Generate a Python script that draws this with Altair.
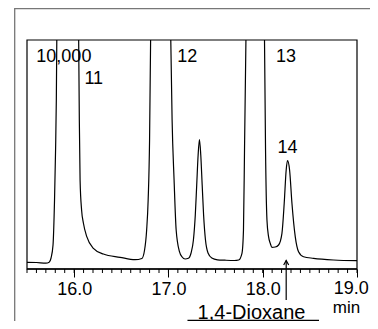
import altair as alt
import pandas as pd

# Chromatogram trace (time in min, detector response; full scale = 10,000).
# The trace leaves the top of the frame on the big peaks, so it is split
# into the four visible stretches.
seg1_t = [15.50, 15.60, 15.70, 15.735, 15.755, 15.776, 15.792, 15.803, 15.811, 15.816]
seg1_v = [293, 284, 253, 293, 480, 1048, 3013, 5197, 7380, 10000]
seg2_t = [16.048, 16.055, 16.063, 16.079, 16.098, 16.134, 16.204, 16.31, 16.487, 16.646,
          16.718, 16.747, 16.769, 16.785, 16.80, 16.811]
seg2_v = [10000, 6507, 3887, 2577, 2009, 1411, 904, 655, 511, 406,
          459, 830, 1703, 3013, 5633, 10000]
seg3_t = [17.025, 17.039, 17.06, 17.082, 17.117, 17.145, 17.177, 17.212, 17.24, 17.265,
          17.285, 17.30, 17.315, 17.329, 17.343, 17.358, 17.373, 17.393, 17.42, 17.46,
          17.52, 17.60, 17.70, 17.745, 17.78, 17.796, 17.807, 17.822]
seg3_v = [10000, 6507, 3887, 1703, 755, 524, 437, 467, 699, 1266,
          2358, 3668, 4978, 5655, 4978, 3668, 2358, 1266, 699, 480,
          402, 384, 371, 393, 686, 1703, 5197, 10000]
seg4_t = [18.019, 18.03, 18.045, 18.062, 18.08, 18.098, 18.133, 18.168, 18.204, 18.228,
          18.249, 18.263, 18.285, 18.31, 18.345, 18.38, 18.433, 18.539, 18.752, 19.0]
seg4_v = [10000, 5197, 2140, 1411, 1122, 948, 961, 1048, 1559, 2869,
          4323, 4729, 4323, 2869, 1411, 755, 537, 467, 393, 362]

# Peak labels
label_text = ["10,000", "11", "12", "13", "14"]
label_time = [15.891, 16.208, 17.20, 18.246, 18.262]
label_resp = [9053, 8057, 9053, 9053, 5044]

# Axis ticks
major_ticks = [16.0, 17.0, 18.0, 19.0]
minor_ticks = [15.5, 15.6, 15.7, 15.8, 15.9, 16.0, 16.1, 16.2, 16.3, 16.4, 16.5, 16.6,
               16.7, 16.8, 16.9, 17.0, 17.1, 17.2, 17.3, 17.4, 17.5, 17.6, 17.7, 17.8,
               17.9, 18.0, 18.1, 18.2, 18.3, 18.4, 18.5, 18.6, 18.7, 18.8, 18.9, 19.0]
last_label = ["19.0"]
last_label_time = [18.94]

# Annotation
annot_name = ["1,4-Dioxane"]
annot_text_time = [17.881]
annot_arrow_time = [18.249]
annot_line_start = [17.202]
annot_line_end = [18.597]

# Plot frame (data range) and outer figure frame (extends past the page edge)
frame_x0 = [15.5]
frame_x1 = [19.0]
frame_y0 = [0]
frame_y1 = [10000]
outer_x0 = [15.3695]
outer_x1 = [19.5]
outer_y0 = [-4000]
outer_y1 = [11367]

FONT = "Liberation Sans"
W, H = 356, 313          # whole figure box
PX_PER_MIN = 330 / 3.5   # inner plot: 15.5-19.0 min over 330 px
PX_PER_UNIT = 229 / 10000
AX_Y = 261               # axis line, px from top of figure box

segs = []
for name, ts, vs in [("a", seg1_t, seg1_v), ("b", seg2_t, seg2_v),
                     ("c", seg3_t, seg3_v), ("d", seg4_t, seg4_v)]:
    segs.append(pd.DataFrame({"t": ts, "v": vs, "seg": name}))
trace = pd.concat(segs, ignore_index=True)
labels = pd.DataFrame({"t": label_time, "v": label_resp, "txt": label_text})
minor = pd.DataFrame({"t": minor_ticks})
last = pd.DataFrame({"t": last_label_time, "txt": last_label})
annot = pd.DataFrame({"name": annot_name, "tt": annot_text_time, "ta": annot_arrow_time,
                      "t1": annot_line_start, "t2": annot_line_end})
frame = pd.DataFrame({"x0": frame_x0, "x1": frame_x1, "y0": frame_y0, "y1": frame_y1})
outer = pd.DataFrame({"x0": outer_x0, "x1": outer_x1, "y0": outer_y0, "y1": outer_y1})

xs = alt.Scale(domain=[15.5 - 13 / PX_PER_MIN, 15.5 + (W - 13) / PX_PER_MIN],
               nice=False, zero=False)
ys = alt.Scale(domain=[-(H - AX_Y) / PX_PER_UNIT, (AX_Y) / PX_PER_UNIT],
               nice=False, zero=False)

x_axis = alt.Axis(values=major_ticks, format=".1f", title="min", grid=False,
                  domain=False, offset=-(H - AX_Y),
                  tickSize=8, tickColor="black", tickWidth=1,
                  labelFont=FONT, labelFontSize=18, labelColor="black",
                  labelFlush=False, labelOverlap=False,
                  labelExpr="datum.value == 19 ? '' : datum.label",
                  labelBaseline="alphabetic", labelPadding=17,
                  titleFont=FONT, titleFontSize=17, titleFontWeight="normal",
                  titleColor="black", titleX=332, titleY=43,
                  titleAlign="center", titleBaseline="alphabetic")

line = alt.Chart(trace).mark_line(color="black", strokeWidth=1.2,
                                  interpolate="monotone").encode(
    x=alt.X("t:Q", scale=xs, axis=x_axis),
    y=alt.Y("v:Q", scale=ys, axis=None),
    detail="seg:N",
)

inner_frame = alt.Chart(frame).mark_rect(filled=False, color="black", strokeWidth=1.2).encode(
    x=alt.X("x0:Q", scale=xs), x2="x1:Q",
    y=alt.Y("y0:Q", scale=ys, axis=None), y2="y1:Q")

outer_frame = alt.Chart(outer).mark_rect(filled=False, color="#777777", strokeWidth=1.3).encode(
    x=alt.X("x0:Q", scale=xs), x2="x1:Q",
    y=alt.Y("y0:Q", scale=ys, axis=None), y2="y1:Q")

axis_line = alt.Chart(frame).mark_rule(color="black", strokeWidth=1.6).encode(
    x=alt.X("x0:Q", scale=xs), x2="x1:Q", y=alt.value(AX_Y))

peak_labels = alt.Chart(labels).mark_text(font=FONT, fontSize=18, color="black",
                                          align="center", baseline="alphabetic").encode(
    x=alt.X("t:Q", scale=xs), y=alt.Y("v:Q", scale=ys, axis=None), text="txt:N")

minor_rules = alt.Chart(minor).mark_rule(color="black", strokeWidth=1).encode(
    x=alt.X("t:Q", scale=xs), y=alt.value(AX_Y), y2=alt.value(AX_Y + 4))

last_text = alt.Chart(last).mark_text(font=FONT, fontSize=18, color="black",
                                      align="center", baseline="alphabetic").encode(
    x=alt.X("t:Q", scale=xs), y=alt.value(AX_Y + 25), text="txt:N")

annot_text = alt.Chart(annot).mark_text(font=FONT, fontSize=20, color="black",
                                        align="center", baseline="alphabetic").encode(
    x=alt.X("tt:Q", scale=xs), y=alt.value(310.5), text="name:N")

annot_under = alt.Chart(annot).mark_rule(color="black", strokeWidth=1.2).encode(
    x=alt.X("t1:Q", scale=xs), x2="t2:Q", y=alt.value(312.3))

annot_arrow = alt.Chart(annot).mark_rule(color="black", strokeWidth=1.2).encode(
    x=alt.X("ta:Q", scale=xs), y=alt.value(252.5), y2=alt.value(292))

annot_head = alt.Chart(annot).mark_point(shape="M-1,0.9L0,-0.9L1,0.9", filled=False,
                                         color="black", strokeWidth=1.2, size=25,
                                         opacity=1).encode(
    x=alt.X("ta:Q", scale=xs), y=alt.value(254.8))

chart = alt.layer(
    outer_frame, line, inner_frame, axis_line, peak_labels,
    minor_rules, last_text, annot_text, annot_under, annot_arrow, annot_head
).properties(
    width=W, height=H,
    padding={"left": 6, "top": 0, "right": 0, "bottom": 0},
    autosize=alt.AutoSizeParams(type="none"),
    background="white",
).configure_view(stroke="transparent")

chart.save("out.html", embed_options={"renderer": "svg", "actions": False})
